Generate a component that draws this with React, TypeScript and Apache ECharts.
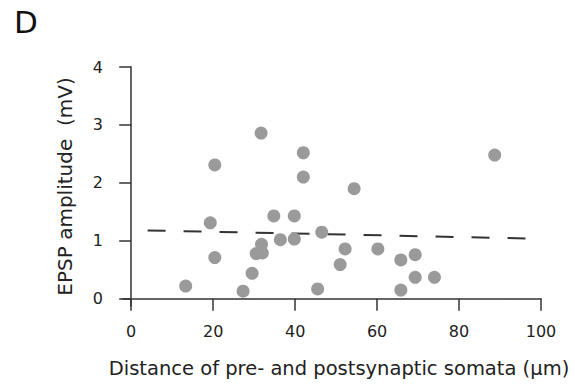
import React, { useEffect, useRef } from "react";
import * as echarts from "echarts";

const distance = [13.3, 20.4, 19.3, 20.4, 31.7, 31.8, 30.5, 32.0, 29.5, 27.3, 34.8, 36.4, 39.8, 39.8, 42.0, 42.0, 46.5, 45.5, 51.0, 52.2, 54.4, 60.2, 65.8, 69.3, 69.3, 74.0, 65.8, 88.7];
const amplitude = [0.22, 2.31, 1.31, 0.71, 2.86, 0.94, 0.78, 0.79, 0.44, 0.13, 1.43, 1.02, 1.43, 1.03, 2.52, 2.10, 1.15, 0.17, 0.59, 0.86, 1.90, 0.86, 0.67, 0.76, 0.37, 0.37, 0.15, 2.48];
const fitX = [4, 97];
const fitY = [1.18, 1.04];
const xTicks = [0, 20, 40, 60, 80, 100];
const yTicks = [0, 1, 2, 3, 4];

const FONT = "'DejaVu Sans', Verdana, sans-serif";
const TEXT = "#222";
const AXIS = "#333";

export default function App() {
  const ref = useRef<HTMLDivElement>(null);
  useEffect(() => {
    if (!ref.current) return;
    const chart = echarts.init(ref.current, undefined, { renderer: "svg" });
    chart.setOption({
      animation: false,
      backgroundColor: "#fff",
      textStyle: { fontFamily: FONT },
      grid: { left: 123, right: 34, top: 67, bottom: 84 },
      graphic: [
        {
          type: "text",
          left: 14,
          top: 6,
          style: { text: "D", font: `31px ${FONT}`, fill: "#111" },
        },
      ],
      xAxis: {
        type: "value",
        min: -2,
        max: 100,
        splitLine: { show: false },
        axisLine: { show: true, lineStyle: { color: AXIS, width: 1.5 } },
        axisTick: { show: true, length: 12, customValues: xTicks, lineStyle: { color: AXIS, width: 1.5 } },
        axisLabel: { customValues: xTicks, color: TEXT, fontSize: 16, margin: 17, fontFamily: FONT },
        name: "Distance of pre- and postsynaptic somata (\u00b5m)",
        nameLocation: "middle",
        nameGap: 52,
        nameTextStyle: { color: TEXT, fontSize: 19.5, fontFamily: FONT, padding: [0, 0, 0, 14] },
      },
      yAxis: {
        type: "value",
        min: -0.125,
        max: 4,
        splitLine: { show: false },
        axisLine: { show: true, lineStyle: { color: AXIS, width: 1.5 } },
        axisTick: { show: true, length: 12, customValues: yTicks, lineStyle: { color: AXIS, width: 1.5 } },
        axisLabel: { customValues: yTicks, color: TEXT, fontSize: 16, margin: 20, fontFamily: FONT },
        name: "EPSP amplitude  (mV)",
        nameLocation: "middle",
        nameGap: 48,
        nameTextStyle: { color: TEXT, fontSize: 20, fontFamily: FONT },
      },
      series: [
        {
          type: "line",
          data: fitX.map((x, i) => [x, fitY[i]]),
          symbol: "none",
          lineStyle: { color: "#333", width: 2, type: [18, 18] },
          z: 1,
        },
        {
          type: "scatter",
          data: distance.map((x, i) => [x, amplitude[i]]),
          symbol: "circle",
          symbolSize: 13,
          itemStyle: { color: "#9a9a9a", opacity: 1 },
          z: 2,
        },
      ],
    });
    return () => chart.dispose();
  }, []);
  return (
    <div
      ref={ref}
      style={{ position: "absolute", left: 0, top: 0, width: 575, height: 390 }}
    />
  );
}
